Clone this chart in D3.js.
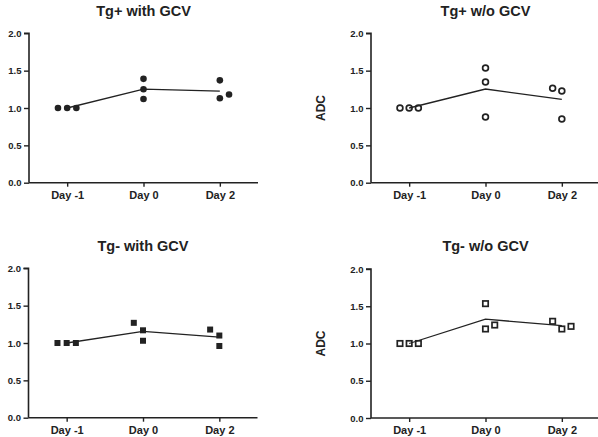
<!DOCTYPE html>
<html><head><meta charset="utf-8">
<script src="https://cdn.jsdelivr.net/npm/d3@7"></script>
<style>
html,body{margin:0;padding:0;background:#fff;}
svg{display:block;}
text{font-family:"Liberation Sans",Arial,sans-serif;fill:#222;}
</style></head>
<body><svg id="c" width="598" height="437"></svg>
<script>
const days = ["Day -1", "Day 0", "Day 2"];
const yTicks = [0, 0.5, 1.0, 1.5, 2.0];
const titles = ["Tg+ with GCV", "Tg+ w/o GCV", "Tg- with GCV", "Tg- w/o GCV"];
const yLabel = "ADC";

// replicate values per day
const tgPlusWith    = [[1.00, 1.00, 1.00], [1.39, 1.25, 1.12], [1.37, 1.13, 1.18]];
const tgPlusWithout = [[1.00, 1.00, 1.00], [1.535, 1.348, 0.88], [1.264, 1.228, 0.853]];
const tgMinusWith   = [[1.00, 1.00, 1.00], [1.27, 1.17, 1.03], [1.18, 1.10, 0.96]];
const tgMinusWithout= [[1.00, 1.00, 1.00], [1.535, 1.195, 1.248], [1.298, 1.195, 1.23]];

// dot-plot column of each replicate (-1 left, 0 centre, 1 right)
const tgPlusWithCols    = [[-1, 0, 1], [0, 0, 0], [0, 0, 1]];
const tgPlusWithoutCols = [[-1, 0, 1], [0, 0, 0], [-1, 0, 0]];
const tgMinusWithCols   = [[-1, 0, 1], [-1, 0, 0], [-1, 0, 0]];
const tgMinusWithoutCols= [[-1, 0, 1], [0, 0, 1], [-1, 0, 1]];

const svg = d3.select("#c");
const ink = "#222";

const panels = [
  {title: titles[0], vals: tgPlusWith, cols: tgPlusWithCols, sym: "circle", fill: true,
   x0: 29, x1: 258, yb: 182.7, yt: 33.3, tY: 16, adc: false},
  {title: titles[1], vals: tgPlusWithout, cols: tgPlusWithoutCols, sym: "circle", fill: false,
   x0: 371, x1: 600, yb: 182.7, yt: 33.3, tY: 16, adc: true},
  {title: titles[2], vals: tgMinusWith, cols: tgMinusWithCols, sym: "square", fill: true,
   x0: 28.5, x1: 257.5, yb: 417.7, yt: 268.3, tY: 251, adc: false},
  {title: titles[3], vals: tgMinusWithout, cols: tgMinusWithoutCols, sym: "square", fill: false,
   x0: 371, x1: 600, yb: 418, yt: 269, tY: 251, adc: true}
];

const dodge = d3.scaleLinear().domain([-1, 1]).range([-9.2, 9.2]);

panels.forEach(p => {
  const g = svg.append("g");
  const x = d3.scalePoint().domain(days).range([p.x0, p.x1]).padding(0.5);
  const y = d3.scaleLinear().domain([0, 2]).range([p.yb, p.yt]);

  // title
  g.append("text").attr("x", (p.x0 + p.x1) / 2).attr("y", p.tY)
    .attr("text-anchor", "middle").attr("font-size", "14.5px").attr("font-weight", "bold")
    .text(p.title);

  // y axis
  const ya = g.append("g").attr("transform", `translate(${p.x0},0)`)
    .call(d3.axisLeft(y).tickValues(yTicks).tickFormat(d3.format(".1f")).tickSize(5).tickPadding(2.5));
  // x axis
  const xa = g.append("g").attr("transform", `translate(0,${p.yb})`)
    .call(d3.axisBottom(x).tickSize(4).tickPadding(4.5));
  [ya, xa].forEach(a => {
    a.select(".domain").attr("stroke", ink).attr("stroke-width", 1.6);
    a.selectAll(".tick line").attr("stroke", ink).attr("stroke-width", 1.4);
    a.selectAll("text").attr("fill", ink).attr("font-weight", "bold")
      .attr("font-family", '"Liberation Sans",Arial,sans-serif');
  });
  ya.select(".domain").attr("d", `M-5,${p.yt}H0V${p.yb}`);
  xa.select(".domain").attr("d", `M${p.x0},0H${p.x1}`);
  ya.selectAll("text").attr("font-size", "9.5px");
  xa.selectAll("text").attr("font-size", "11px");

  if (p.adc) {
    g.append("text")
      .attr("transform", `translate(${p.x0 - 46},${(p.yb + p.yt) / 2}) rotate(-90)`)
      .attr("text-anchor", "middle").attr("font-size", "12px").attr("font-weight", "bold")
      .text(yLabel);
  }

  // mean line
  const means = p.vals.map((v, i) => ({day: days[i], m: d3.mean(v)}));
  g.append("path").datum(means)
    .attr("fill", "none").attr("stroke", ink).attr("stroke-width", 1.3)
    .attr("d", d3.line().x(d => x(d.day)).y(d => y(d.m)));

  // points
  const pts = [];
  p.vals.forEach((arr, i) => arr.forEach((v, j) => pts.push({day: days[i], v, c: p.cols[i][j]})));
  const px = d => x(d.day) + dodge(d.c);
  if (p.sym === "circle") {
    g.selectAll("circle.pt").data(pts).join("circle").attr("class", "pt")
      .attr("cx", px).attr("cy", d => y(d.v))
      .attr("r", p.fill ? 3.3 : 2.9)
      .attr("fill", p.fill ? ink : "none")
      .attr("stroke", ink).attr("stroke-width", p.fill ? 0 : 1.7);
  } else {
    const s = p.fill ? 6 : 5.4;
    g.selectAll("rect.pt").data(pts).join("rect").attr("class", "pt")
      .attr("x", d => px(d) - s / 2).attr("y", d => y(d.v) - s / 2)
      .attr("width", s).attr("height", s)
      .attr("fill", p.fill ? ink : "none")
      .attr("stroke", ink).attr("stroke-width", p.fill ? 0 : 1.7);
  }
});
</script></body></html>
